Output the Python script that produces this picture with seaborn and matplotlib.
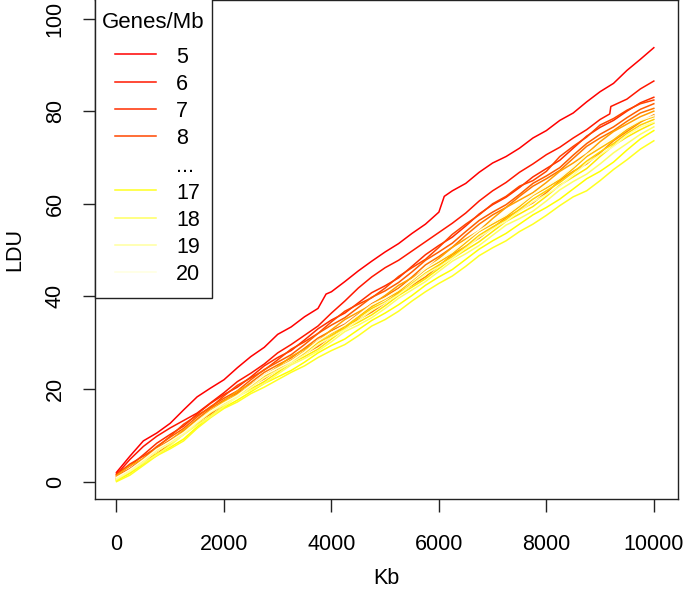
import matplotlib
matplotlib.use("Agg")
import matplotlib.pyplot as plt
import seaborn as sns
import pandas as pd
from matplotlib.patches import Rectangle
from matplotlib.lines import Line2D

# ---------------- data ----------------
genes = [5, 6, 7, 8, 9, 10, 11, 12, 13, 14, 15, 16, 17, 18, 19, 20]
legend_labels = ["5", "6", "7", "8", "...", "17", "18", "19", "20"]

kb_5 = [0, 250, 500, 750, 1000, 1250, 1500, 1750, 2000, 2250, 2500, 2750, 3000, 3250, 3500,
        3750, 3900, 4000, 4250, 4500, 4750, 5000, 5250, 5500, 5750, 6000, 6100, 6250, 6500,
        6750, 7000, 7250, 7500, 7750, 8000, 8250, 8500, 8750, 9000, 9250, 9500, 9750, 10000]
ldu_5 = [2.0, 5.5, 8.8, 10.5, 12.6, 15.5, 18.3, 20.2, 22.0, 24.6, 27.0, 29.0, 31.8, 33.4, 35.6,
         37.4, 40.5, 41.0, 43.2, 45.5, 47.6, 49.6, 51.4, 53.6, 55.6, 58.2, 61.6, 62.8, 64.4,
         66.8, 68.8, 70.2, 72.0, 74.2, 75.8, 78.0, 79.6, 82.0, 84.2, 86.0, 88.8, 91.2, 93.7]

kb_6 = [0, 250, 500, 750, 1000, 1250, 1500, 1750, 2000, 2250, 2500, 2750, 3000, 3250, 3500,
        3750, 4000, 4250, 4500, 4750, 5000, 5250, 5500, 5750, 6000, 6250, 6500, 6750, 7000,
        7250, 7500, 7750, 8000, 8250, 8500, 8750, 9000, 9180, 9200, 9500, 9750, 10000]
ldu_6 = [1.5, 4.8, 7.6, 9.8, 11.6, 13.2, 14.8, 17.0, 19.2, 21.6, 23.4, 25.4, 27.8, 29.6, 31.6,
         33.6, 36.4, 39.0, 41.8, 44.2, 46.2, 47.8, 49.8, 51.8, 53.8, 55.8, 58.0, 60.6, 62.8,
         64.6, 66.8, 68.6, 70.6, 72.2, 74.2, 76.0, 78.2, 79.4, 81.0, 82.6, 84.8, 86.5]

kb = [0, 250, 500, 750, 1000, 1250, 1500, 1750, 2000, 2250, 2500, 2750, 3000, 3250,
      3500, 3750, 4000, 4250, 4500, 4750, 5000, 5250, 5500, 5750, 6000, 6250, 6500,
      6750, 7000, 7250, 7500, 7750, 8000, 8250, 8500, 8750, 9000, 9250, 9500, 9750, 10000]
ldu_7 = [1.8, 3.4, 5.8, 8.3, 10.2, 12.0, 14.6, 16.9, 18.8, 20.4, 22.6, 25.0, 26.8, 28.3,
         30.6, 33.0, 34.9, 36.4, 38.6, 40.8, 42.3, 44.0, 46.5, 49.0, 51.0, 52.8, 55.2,
         57.8, 59.8, 61.4, 63.5, 65.8, 67.6, 69.4, 72.0, 74.6, 76.5, 78.0, 80.0, 81.8, 83.0]
ldu_8 = [1.5, 3.8, 5.5, 7.4, 9.8, 12.4, 14.3, 16.0, 18.5, 20.8, 22.4, 24.1, 26.3, 28.6,
         30.2, 32.0, 34.5, 36.8, 38.3, 39.7, 41.8, 44.3, 46.2, 48.0, 50.6, 53.4, 55.6,
         57.6, 60.0, 61.6, 63.8, 65.0, 67.0, 70.2, 72.4, 74.4, 77.0, 78.4, 80.2, 81.6, 82.4]
ldu_9 = [1.2, 2.8, 5.0, 7.6, 9.6, 11.5, 14.0, 16.2, 18.0, 19.6, 22.0, 24.2, 25.8, 27.4,
         29.6, 32.0, 33.8, 35.4, 37.6, 39.8, 41.2, 43.0, 45.3, 47.8, 49.6, 51.5, 54.0,
         56.4, 58.2, 59.8, 62.0, 64.4, 66.0, 67.8, 70.5, 73.0, 75.0, 76.6, 78.6, 80.4, 81.6]
ldu_10 = [1.0, 2.6, 4.8, 7.2, 9.0, 11.0, 13.5, 15.8, 17.6, 19.2, 21.4, 23.6, 25.2, 26.7,
          28.8, 31.0, 32.6, 34.0, 36.2, 38.4, 40.0, 41.8, 44.2, 46.8, 48.6, 50.6, 53.2,
          55.6, 57.6, 59.2, 61.6, 63.8, 65.4, 67.2, 69.8, 72.4, 74.2, 75.8, 77.8, 79.6, 80.6]
ldu_11 = [0.6, 2.6, 4.4, 6.0, 8.2, 10.8, 12.8, 14.6, 16.8, 19.0, 20.6, 22.2, 24.2, 26.2,
          27.6, 29.2, 31.4, 33.6, 35.0, 36.6, 38.6, 40.8, 42.4, 44.2, 46.6, 49.0, 50.8,
          52.6, 54.8, 57.0, 58.6, 60.2, 62.4, 65.0, 67.0, 68.6, 71.0, 73.6, 75.6, 77.6, 79.2]
ldu_12 = [1.3, 3.4, 5.0, 6.6, 8.8, 11.2, 13.2, 15.0, 17.4, 19.6, 21.0, 22.6, 24.8, 27.0,
          28.6, 30.4, 32.8, 35.0, 36.6, 38.2, 40.2, 42.4, 44.0, 45.8, 48.2, 50.6, 52.4,
          54.2, 56.8, 59.2, 60.8, 62.4, 64.6, 67.0, 68.8, 70.8, 73.4, 75.6, 77.2, 78.8, 80.0]
ldu_13 = [0.8, 2.4, 4.6, 7.0, 8.6, 10.4, 13.0, 15.4, 17.2, 18.8, 20.8, 23.0, 24.6, 26.2,
          28.2, 30.4, 32.0, 33.6, 35.6, 37.8, 39.4, 41.0, 43.4, 45.8, 47.4, 49.2, 51.6,
          54.0, 55.6, 57.2, 59.4, 61.8, 63.4, 65.2, 67.6, 70.2, 72.0, 73.8, 76.0, 77.8, 78.8]
ldu_14 = [0.5, 2.0, 4.2, 6.6, 8.4, 10.2, 12.6, 15.0, 16.8, 18.4, 20.4, 22.6, 24.0, 25.6,
          27.8, 30.0, 31.6, 33.2, 35.4, 37.4, 38.8, 40.6, 42.8, 45.0, 46.8, 48.6, 50.8,
          53.2, 55.0, 56.6, 58.8, 61.0, 62.8, 64.6, 66.8, 69.2, 71.2, 73.0, 75.2, 77.0, 78.2]
ldu_15 = [0.3, 2.4, 4.0, 5.6, 8.0, 10.6, 12.4, 14.0, 16.4, 18.6, 20.0, 21.6, 23.6, 25.6,
          27.0, 28.6, 30.8, 33.0, 34.4, 36.0, 38.0, 40.2, 42.0, 43.8, 46.0, 48.2, 50.0,
          51.8, 54.0, 56.2, 57.8, 59.4, 61.6, 64.0, 65.8, 67.6, 70.2, 72.6, 74.4, 76.0, 77.4]
ldu_16 = [0.2, 1.8, 3.8, 6.0, 7.4, 9.2, 11.8, 14.2, 16.0, 17.6, 19.4, 21.2, 22.6, 24.0,
          25.8, 27.8, 29.4, 30.8, 32.8, 34.8, 36.4, 38.2, 40.2, 42.4, 44.2, 45.8, 48.0,
          50.2, 52.0, 53.6, 55.6, 57.6, 59.2, 61.0, 63.2, 65.4, 67.0, 69.0, 71.6, 74.0, 75.8]
ldu_17 = [0.0, 1.4, 3.5, 5.6, 7.1, 8.8, 11.5, 13.8, 15.8, 17.2, 19.0, 20.4, 22.0, 23.6,
          25.0, 26.8, 28.3, 29.6, 31.5, 33.6, 35.0, 36.8, 39.0, 41.0, 42.8, 44.4, 46.5,
          48.8, 50.5, 52.0, 54.0, 55.6, 57.5, 59.6, 61.5, 62.8, 65.0, 67.4, 69.5, 71.8, 73.6]
ldu_18 = [0.4, 2.2, 4.0, 5.8, 7.8, 10.2, 12.2, 14.0, 16.2, 18.4, 19.8, 21.2, 23.2, 25.2,
          26.6, 28.2, 30.2, 32.4, 33.8, 35.4, 37.4, 39.6, 41.4, 43.2, 45.4, 47.6, 49.2,
          51.0, 53.2, 55.4, 56.8, 58.4, 60.6, 63.0, 64.8, 66.4, 68.6, 71.0, 73.0, 75.0, 76.6]
ldu_19 = [0.6, 2.2, 4.3, 6.6, 8.3, 10.2, 12.7, 15.0, 16.6, 18.2, 20.3, 22.4, 24.0, 25.6,
          27.4, 29.6, 31.2, 32.8, 34.8, 37.0, 38.6, 40.4, 42.6, 44.8, 46.4, 48.2, 50.4,
          52.8, 54.6, 56.2, 58.4, 60.4, 62.0, 63.8, 66.2, 68.8, 70.6, 72.4, 74.8, 76.6, 77.6]
ldu_20 = [0.9, 2.6, 4.7, 7.0, 8.7, 10.6, 13.0, 15.2, 17.0, 18.6, 20.8, 23.0, 24.5, 26.0,
          28.0, 30.4, 32.2, 33.8, 36.0, 38.2, 39.6, 41.4, 43.6, 46.0, 47.8, 49.6, 52.0,
          54.2, 56.0, 57.6, 59.8, 62.0, 63.8, 65.6, 68.0, 70.6, 72.6, 74.4, 76.4, 78.0, 79.0]

# R heat.colors(16)
colors = ["#FF0000", "#FF1700", "#FF2E00", "#FF4600", "#FF5D00", "#FF7400",
          "#FF8B00", "#FFA200", "#FFB900", "#FFD100", "#FFE800", "#FFFF00",
          "#FFFF20", "#FFFF60", "#FFFF9F", "#FFFFDF"]

series = {5: (kb_5, ldu_5), 6: (kb_6, ldu_6)}
others = [ldu_7, ldu_8, ldu_9, ldu_10, ldu_11, ldu_12, ldu_13, ldu_14,
          ldu_15, ldu_16, ldu_17, ldu_18, ldu_19, ldu_20]
for g, vals in zip(genes[2:], others):
    assert len(vals) == len(kb), g
    series[g] = (kb, vals)
assert len(kb_5) == len(ldu_5) and len(kb_6) == len(ldu_6)

rows = []
for g in genes:
    xs, ys = series[g]
    for x, y in zip(xs, ys):
        rows.append({"Kb": x, "LDU": y, "gene": g})
df = pd.DataFrame(rows)

# ---------------- figure ----------------
W, H = 685, 594
plt.rcParams["font.family"] = ["Liberation Sans", "DejaVu Sans"]
fig = plt.figure(figsize=(W / 100, H / 100), dpi=100)
ax = fig.add_axes([95 / W, 1 - 499 / H, (678 - 95) / W, 499 / H])

sns.lineplot(data=df, x="Kb", y="LDU", hue="gene", hue_order=genes,
             palette=colors, estimator=None, sort=False, legend=False,
             linewidth=1.1, ax=ax)

ax.set_xlim(-400, 10450)
ax.set_ylim(-3.75, 104)
ax.set_xticks([0, 2000, 4000, 6000, 8000, 10000])
ax.set_yticks([0, 20, 40, 60, 80, 100])
ax.tick_params(axis="both", length=9, width=1, color="#222222", labelsize=15.5,
               direction="out")
ax.tick_params(axis="x", pad=16)
ax.tick_params(axis="y", pad=12)
for lab in ax.get_yticklabels():
    lab.set_rotation(90)
    lab.set_va("center")
for sp in ax.spines.values():
    sp.set_linewidth(1)
    sp.set_color("#222222")

ax.set_xlabel("Kb", fontsize=15.5)
ax.set_ylabel("LDU", fontsize=15.5)
ax.xaxis.set_label_coords(0.5, (499 - 578) / 499)
ax.xaxis.label.set_va("center")
ax.yaxis.set_label_coords((15 - 95) / (678 - 95), 0.5)
ax.yaxis.label.set_va("center")


def fx(x):
    return x / W


def fy(y):
    return 1 - y / H


# ---------------- legend (R style box) ----------------
fig.patches.append(Rectangle((fx(95), fy(298)), fx(212) - fx(95), fy(-2) - fy(298),
                             transform=fig.transFigure, facecolor="white",
                             edgecolor="#222222", linewidth=1, zorder=5))
fig.text(fx(153), fy(28.3), "Genes/Mb", ha="center", va="baseline",
         fontsize=16, zorder=6)
leg_colors = colors[:4] + [None] + colors[-4:]
for i, (lab, c) in enumerate(zip(legend_labels, leg_colors)):
    yb = 62.7 + 27.2 * i
    yl = 54.3 + 27.2 * i
    if c is not None:
        fig.lines.append(Line2D([fx(115), fx(156)], [fy(yl), fy(yl)],
                                transform=fig.transFigure, color=c,
                                linewidth=1.1, zorder=6))
    fig.text(fx(176), fy(yb), lab, ha="left", va="baseline", fontsize=15.5, zorder=6)

fig.savefig("out.png", dpi=100)
